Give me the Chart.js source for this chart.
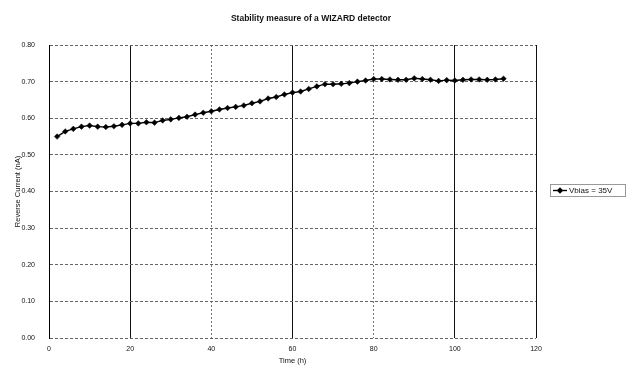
<!DOCTYPE html>
<html lang="en">
<head>
    <meta charset="UTF-8">
    <title>Stability measure of a WIZARD detector</title>
    <script src="https://cdn.jsdelivr.net/npm/chart.js"></script>
    <style>
        body {
            margin: 0;
            padding: 0;
            background: #fff;
        }

        .chart-box {
            position: relative;
            width: 632px;
            height: 369px;
        }

        canvas {
            display: block;
        }
    </style>
</head>
<body>
    <div class="chart-box">
        <canvas id="stabilityChart" width="632" height="369"></canvas>
    </div>

    <script>
        // measurement times (h), one reading every 2 hours
        const timeHours = [
            2, 4, 6, 8, 10, 12, 14, 16, 18, 20, 22, 24, 26, 28,
            30, 32, 34, 36, 38, 40, 42, 44, 46, 48, 50, 52, 54, 56, 58,
            60, 62, 64, 66, 68, 70, 72, 74, 76, 78, 80, 82, 84, 86, 88,
            90, 92, 94, 96, 98, 100, 102, 104, 106, 108, 110, 112
        ];

        // reverse current (nA) at Vbias = 35V
        const reverseCurrent = [
            0.550, 0.564, 0.571, 0.577, 0.580, 0.577, 0.576, 0.578, 0.582, 0.586, 0.586, 0.589, 0.588, 0.594,
            0.597, 0.601, 0.604, 0.610, 0.615, 0.619, 0.624, 0.628, 0.631, 0.635, 0.641, 0.646, 0.654, 0.658, 0.665,
            0.670, 0.673, 0.680, 0.687, 0.693, 0.693, 0.694, 0.696, 0.700, 0.703, 0.707, 0.707, 0.706, 0.705, 0.705,
            0.709, 0.707, 0.705, 0.702, 0.704, 0.703, 0.705, 0.706, 0.706, 0.705, 0.706, 0.708
        ];

        const seriesLabel = 'Vbias = 35V';
        const chartTitle = 'Stability measure of a WIZARD detector';
        const xTitle = 'Time (h)';
        const yTitle = 'Reverse Current (nA)';

        // x gridlines that print solid; the others are dotted
        const solidTimeLines = [20, 60, 100, 120];

        const FONT = "'Liberation Sans', Arial, sans-serif";

        // title centred on the whole page, boxed legend right of the plot
        const pageDecor = {
            id: 'pageDecor',
            afterDraw(chart) {
                const ctx = chart.ctx;
                const ds = chart.data.datasets[0];
                ctx.save();

                ctx.fillStyle = '#111';
                ctx.font = 'bold 8.5px ' + FONT;
                ctx.textAlign = 'center';
                ctx.textBaseline = 'middle';
                ctx.fillText(chartTitle, 311, 19);

                ctx.strokeStyle = '#333';
                ctx.lineWidth = 1;
                ctx.setLineDash([1, 1]);
                ctx.strokeRect(550.5, 184.5, 75, 12);
                ctx.setLineDash([]);

                ctx.strokeStyle = ds.borderColor;
                ctx.lineWidth = 1.4;
                ctx.beginPath();
                ctx.moveTo(553, 190.5);
                ctx.lineTo(567, 190.5);
                ctx.stroke();

                ctx.fillStyle = ds.pointBackgroundColor;
                ctx.beginPath();
                ctx.moveTo(560, 187.3);
                ctx.lineTo(563.2, 190.5);
                ctx.lineTo(560, 193.7);
                ctx.lineTo(556.8, 190.5);
                ctx.closePath();
                ctx.fill();

                ctx.fillStyle = '#111';
                ctx.font = '8px ' + FONT;
                ctx.textAlign = 'left';
                ctx.fillText(ds.label, 569, 191);
                ctx.restore();
            }
        };

        const points = timeHours.map((t, i) => ({ x: t, y: reverseCurrent[i] }));

        new Chart(document.getElementById('stabilityChart').getContext('2d'), {
            type: 'line',
            data: {
                datasets: [{
                    label: seriesLabel,
                    data: points,
                    borderColor: '#000',
                    borderWidth: 1.4,
                    pointStyle: 'rectRot',
                    pointRadius: 2.8,
                    pointBackgroundColor: '#000',
                    pointBorderColor: '#000',
                    pointBorderWidth: 0.5,
                    tension: 0,
                    fill: false
                }]
            },
            options: {
                responsive: false,
                animation: false,
                devicePixelRatio: 1,
                layout: {
                    padding: { left: 0, right: 96, top: 45, bottom: 0 }
                },
                plugins: {
                    legend: { display: false },
                    tooltip: { enabled: false },
                    title: { display: false }
                },
                scales: {
                    x: {
                        type: 'linear',
                        min: 0,
                        max: 120,
                        afterFit: s => { s.height = 31; },
                        ticks: {
                            stepSize: 20,
                            padding: 7,
                            color: '#111',
                            maxRotation: 0,
                            font: { family: FONT, size: 7 }
                        },
                        grid: {
                            drawTicks: false,
                            lineWidth: 1,
                            color: c => solidTimeLines.includes(c.tick && c.tick.value) ? '#111' : '#777'
                        },
                        border: {
                            display: false,
                            dash: c => solidTimeLines.includes(c.tick && c.tick.value) ? [] : [2, 2]
                        },
                        title: {
                            display: true,
                            text: xTitle,
                            color: '#111',
                            font: { family: FONT, size: 7.5 },
                            padding: { top: 0, bottom: 3.5 }
                        }
                    },
                    y: {
                        min: 0,
                        max: 0.8,
                        afterFit: s => { s.width = 49; },
                        ticks: {
                            stepSize: 0.1,
                            padding: 14,
                            color: '#111',
                            font: { family: FONT, size: 7 },
                            callback: v => Number(v).toFixed(2)
                        },
                        grid: {
                            drawTicks: false,
                            lineWidth: 1,
                            color: '#666'
                        },
                        border: {
                            display: true,
                            color: '#000',
                            width: 1,
                            dash: [3, 2]
                        },
                        title: {
                            display: true,
                            text: yTitle,
                            color: '#111',
                            font: { family: FONT, size: 7.5 },
                            padding: { top: 13, bottom: 0 }
                        }
                    }
                }
            },
            plugins: [pageDecor]
        });
    </script>
</body>
</html>
